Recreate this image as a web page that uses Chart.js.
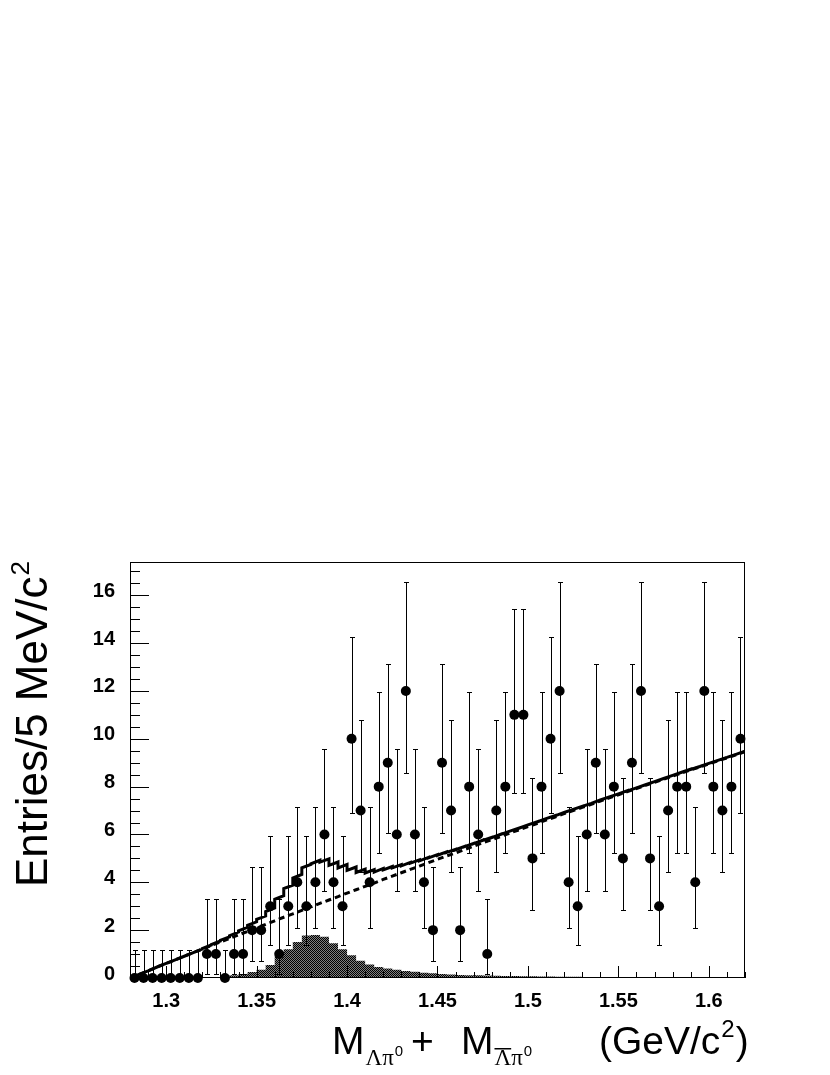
<!DOCTYPE html>
<html>
<head>
<meta charset="utf-8">
<script src="https://cdn.jsdelivr.net/npm/chart.js@4.4.1/dist/chart.umd.min.js"></script>
<style>
html,body{margin:0;padding:0;background:#fff;}
#wrap{position:relative;width:830px;height:1075px;}
</style>
</head>
<body>
<div id="wrap"><canvas id="c" width="830" height="1075"></canvas></div>
<script>
// ---------------- data ----------------
const binCenters = [
  1.2825,1.2875,1.2925,1.2975,1.3025,1.3075,1.3125,1.3175,1.3225,1.3275,
  1.3325,1.3375,1.3425,1.3475,1.3525,1.3575,1.3625,1.3675,1.3725,1.3775,
  1.3825,1.3875,1.3925,1.3975,1.4025,1.4075,1.4125,1.4175,1.4225,1.4275,
  1.4325,1.4375,1.4425,1.4475,1.4525,1.4575,1.4625,1.4675,1.4725,1.4775,
  1.4825,1.4875,1.4925,1.4975,1.5025,1.5075,1.5125,1.5175,1.5225,1.5275,
  1.5325,1.5375,1.5425,1.5475,1.5525,1.5575,1.5625,1.5675,1.5725,1.5775,
  1.5825,1.5875,1.5925,1.5975,1.6025,1.6075,1.6125,1.6175];
const binHalfWidth = 0.0025;

// observed entries per 5 MeV bin
const counts = [
  0,0,0,0,0,0,0,0,1,1,
  0,1,1,2,2,3,1,3,4,3,
  4,6,4,3,10,7,4,8,9,6,
  12,6,4,2,9,7,2,8,6,1,
  7,8,11,11,5,8,10,12,4,3,
  6,9,6,8,5,9,12,5,3,7,
  8,8,4,12,8,7,8,10];

// shaded signal-shape histogram
const signalShape = [
  0,0,0,0,0,0,0,0,0.02,0.04,
  0.07,0.12,0.17,0.25,0.35,0.54,0.90,1.20,1.50,1.78,
  1.80,1.72,1.45,1.20,0.95,0.72,0.56,0.46,0.40,0.34,
  0.29,0.26,0.22,0.20,0.17,0.15,0.13,0.12,0.11,0.10,
  0.09,0.08,0.08,0.07,0.07,0.06,0.06,0.05,0.05,0.05,
  0.04,0.04,0.04,0.04,0.04,0.03,0.03,0.03,0.03,0.03,
  0.03,0.03,0.02,0.02,0.02,0.02,0.02,0.02];

// background curve (dashed), at the 69 bin edges 1.280 ... 1.620
const backgroundAtEdges = [
  0.00,0.15,0.30,0.46,0.61,0.76,0.91,1.06,1.21,1.36,
  1.51,1.65,1.80,1.95,2.10,2.24,2.39,2.54,2.68,2.83,
  2.97,3.12,3.26,3.40,3.55,3.69,3.83,3.97,4.12,4.26,
  4.40,4.54,4.68,4.82,4.96,5.10,5.23,5.37,5.51,5.65,
  5.78,5.92,6.06,6.19,6.33,6.46,6.60,6.73,6.87,7.00,
  7.13,7.26,7.40,7.53,7.66,7.79,7.92,8.05,8.18,8.31,
  8.44,8.57,8.70,8.82,8.95,9.08,9.20,9.33,9.46];

// 68% Poisson interval edges for a count n (index = n)
const poissonLower = [0, 0.17, 0.71, 1.37, 2.09, 2.84, 3.62, 4.42, 5.23, 6.06, 6.89, 7.73, 8.58];
const poissonUpper = [1.15, 3.30, 4.64, 5.92, 7.16, 8.38, 9.58, 10.77, 11.95, 13.11, 14.27, 15.42, 16.56];

const xTicks = [1.3, 1.35, 1.4, 1.45, 1.5, 1.55, 1.6];
const xTickLabels = ['1.3', '1.35', '1.4', '1.45', '1.5', '1.55', '1.6'];
const yTicks = [0, 2, 4, 6, 8, 10, 12, 14, 16];
const yTickLabels = ['0', '2', '4', '6', '8', '10', '12', '14', '16'];
const xRange = [1.28, 1.62];
const yRange = [0, 17.39];

// ---------------- build datasets ----------------
const edges = binCenters.map(c => +(c - binHalfWidth).toFixed(4));
edges.push(+(binCenters[binCenters.length - 1] + binHalfWidth).toFixed(4));

const histPts = [];
const fitPts = [];
binCenters.forEach((c, i) => {
  histPts.push({x: edges[i], y: signalShape[i]}, {x: edges[i + 1], y: signalShape[i]});
  fitPts.push({x: edges[i], y: backgroundAtEdges[i] + signalShape[i]},
              {x: edges[i + 1], y: backgroundAtEdges[i + 1] + signalShape[i]});
});
const bgPts = edges.map((e, k) => ({x: e, y: backgroundAtEdges[k]}));
const dataPts = binCenters.map((c, i) => ({x: c, y: counts[i]}));

const canvas = document.getElementById('c');
const ctx = canvas.getContext('2d');

// stipple fill pattern
const pc = document.createElement('canvas');
pc.width = 2; pc.height = 2;
const pctx = pc.getContext('2d');
pctx.fillStyle = '#808080'; pctx.fillRect(0, 0, 2, 2);
pctx.fillStyle = '#000'; pctx.fillRect(0, 0, 1, 1); pctx.fillRect(1, 1, 1, 1);
const stipple = ctx.createPattern(pc, 'repeat');

const SANS = '"Liberation Sans", Arial, Helvetica, sans-serif';
const SERIF = '"Liberation Serif", "Times New Roman", serif';
Chart.defaults.font.family = SANS;
Chart.defaults.color = '#000';

const rootStyle = {
  id: 'rootStyle',
  beforeDatasetDraw(chart, args) {
    if (chart.data.datasets[args.index].id !== 'pts') return;
    const {x, y} = chart.scales;
    const c = chart.ctx;
    c.save();
    c.strokeStyle = '#000';
    c.lineWidth = 1;
    c.beginPath();
    binCenters.forEach((bc, i) => {
      const n = counts[i];
      const px = Math.round(x.getPixelForValue(bc)) + 0.5;
      const yl = Math.round(y.getPixelForValue(poissonLower[n])) + 0.5;
      const yh = Math.round(y.getPixelForValue(poissonUpper[n])) + 0.5;
      c.moveTo(px, yl); c.lineTo(px, yh);
      c.moveTo(px - 2.5, yh); c.lineTo(px + 2.5, yh);
      if (poissonLower[n] > 0) { c.moveTo(px - 2.5, yl); c.lineTo(px + 2.5, yl); }
    });
    c.stroke();
    c.restore();
  },
  afterDraw(chart) {
    const {x, y} = chart.scales;
    const a = chart.chartArea;
    const c = chart.ctx;
    c.save();
    // frame
    c.strokeStyle = '#000';
    c.lineWidth = 1;
    c.strokeRect(Math.round(a.left) + 0.5, Math.round(a.top) + 0.5,
                 Math.round(a.right - a.left) - 1, Math.round(a.bottom - a.top) - 1);
    // y ticks (inside)
    c.beginPath();
    for (let v = 0; v <= yRange[1] + 1e-9; v += 0.5) {
      const py = Math.round(y.getPixelForValue(v)) + 0.5;
      const len = (Math.abs(v / 2 - Math.round(v / 2)) < 1e-6) ? 19 : 10;
      c.moveTo(a.left, py); c.lineTo(a.left + len, py);
    }
    // x ticks (inside)
    for (let k = 129; k <= 162; k++) {
      const v = k / 100;
      const px = Math.round(x.getPixelForValue(v)) + 0.5;
      const len = (k % 5 === 0) ? 12 : 6;
      c.moveTo(px, a.bottom); c.lineTo(px, a.bottom - len);
    }
    c.stroke();

    // axis titles
    c.fillStyle = '#000';
    c.textBaseline = 'alphabetic';
    // y title
    c.save();
    c.translate(47, 887);
    c.rotate(-Math.PI / 2);
    c.font = '44px ' + SANS;
    c.textAlign = 'left';
    const yt = 'Entries/5 MeV/c';
    c.fillText(yt, 0, 0);
    const w = c.measureText(yt).width;
    c.font = '26px ' + SANS;
    c.fillText('2', w + 1, -18);
    c.restore();

    // x title
    const base = 1054;
    c.textAlign = 'left';
    c.font = '39px ' + SANS;
    let cx = 332;
    c.fillText('M', cx, base);
    cx += c.measureText('M').width + 1;
    c.font = '23px ' + SERIF;
    c.fillText('\u039B\u03C0', cx, base + 11);
    cx += c.measureText('\u039B\u03C0').width + 1;
    c.font = '15px ' + SANS;
    c.fillText('0', cx, base + 2);
    c.font = '39px ' + SANS;
    c.fillText('+', 411, base);
    cx = 461;
    c.fillText('M', cx, base);
    cx += c.measureText('M').width + 1;
    c.font = '23px ' + SERIF;
    const lw = c.measureText('\u039B').width;
    c.fillText('\u039B\u03C0', cx, base + 11);
    c.fillRect(cx, base - 6, lw, 1.5);
    cx += c.measureText('\u039B\u03C0').width + 1;
    c.font = '15px ' + SANS;
    c.fillText('0', cx, base + 2);
    // units
    c.font = '39px ' + SANS;
    cx = 599;
    c.fillText('(GeV/c', cx, base);
    cx += c.measureText('(GeV/c').width + 1;
    c.font = '24px ' + SANS;
    c.fillText('2', cx, base - 17);
    cx += c.measureText('2').width + 1;
    c.font = '39px ' + SANS;
    c.fillText(')', cx, base);
    c.restore();
  }
};

new Chart(ctx, {
  type: 'scatter',
  data: {
    datasets: [
      {
        id: 'pts', type: 'scatter', data: dataPts, order: 0,
        pointStyle: 'circle', pointRadius: 5, pointHoverRadius: 5,
        backgroundColor: '#000', borderColor: '#000', borderWidth: 0, clip: false
      },
      {
        id: 'fit', type: 'line', data: fitPts, order: 1,
        borderColor: '#000', borderWidth: 3, pointRadius: 0, tension: 0, fill: false
      },
      {
        id: 'bg', type: 'line', data: bgPts, order: 2,
        borderColor: '#000', borderWidth: 3, borderDash: [6, 4], pointRadius: 0, tension: 0, fill: false
      },
      {
        id: 'hist', type: 'line', data: histPts, order: 3,
        borderColor: 'rgba(0,0,0,0)', borderWidth: 0, pointRadius: 0, tension: 0,
        fill: 'origin', backgroundColor: stipple
      }
    ]
  },
  options: {
    responsive: false,
    animation: false,
    devicePixelRatio: 1,
    events: [],
    layout: {padding: {top: 562, right: 85, left: 0, bottom: 0}},
    plugins: {legend: {display: false}, tooltip: {enabled: false}},
    scales: {
      x: {
        type: 'linear', min: xRange[0], max: xRange[1],
        afterBuildTicks: s => { s.ticks = xTicks.map(v => ({value: v})); },
        afterFit: s => { s.height = 97; },
        grid: {display: false, drawTicks: false},
        border: {display: false},
        ticks: {
          font: {size: 20, weight: 'bold', family: SANS}, color: '#000', padding: 11,
          maxRotation: 0, autoSkip: false,
          callback: v => { const i = xTicks.findIndex(t => Math.abs(t - v) < 1e-9); return i >= 0 ? xTickLabels[i] : ''; }
        }
      },
      y: {
        type: 'linear', min: yRange[0], max: yRange[1],
        afterBuildTicks: s => { s.ticks = yTicks.map(v => ({value: v})); },
        afterFit: s => { s.width = 130; },
        grid: {display: false, drawTicks: false},
        border: {display: false},
        ticks: {
          font: {size: 20, weight: 'bold', family: SANS}, color: '#000', padding: 15,
          labelOffset: -4, autoSkip: false,
          callback: v => { const i = yTicks.indexOf(v); return i >= 0 ? yTickLabels[i] : ''; }
        }
      }
    }
  },
  plugins: [rootStyle]
});
</script>
</body>
</html>
